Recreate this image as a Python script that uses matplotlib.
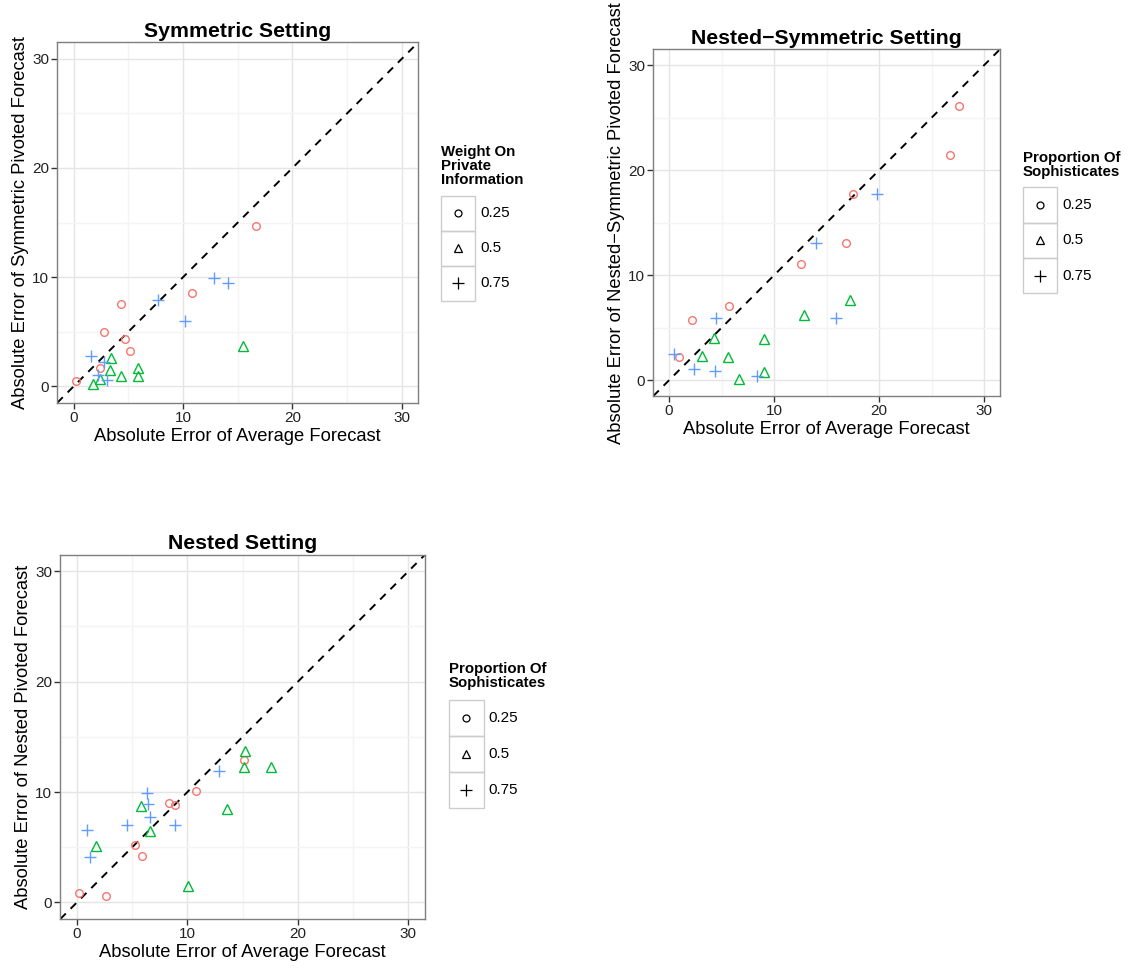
import numpy as np
import matplotlib
matplotlib.use("Agg")
import matplotlib.pyplot as plt
from matplotlib.patches import Rectangle

plt.rcParams["font.family"] = ["Liberation Sans", "DejaVu Sans"]

# Data: (x = abs error of average forecast, y = abs error of pivoted forecast)
groups = ["0.25", "0.5", "0.75"]

# Symmetric setting, by weight on private information
sym_x_025 = [0.2, 4.3, 2.8, 4.7, 5.1, 2.4, 10.8, 16.7]
sym_y_025 = [0.5, 7.5, 5.0, 4.3, 3.2, 1.7, 8.5, 14.7]
sym_x_05 = [3.4, 3.3, 4.3, 5.9, 5.9, 1.8, 2.4, 15.5]
sym_y_05 = [2.6, 1.5, 0.9, 1.7, 0.9, 0.2, 0.7, 3.7]
sym_x_075 = [1.6, 2.8, 2.2, 3.0, 7.7, 10.2, 12.8, 14.1]
sym_y_075 = [2.8, 2.2, 1.0, 0.6, 7.9, 6.0, 9.9, 9.5]

# Nested-symmetric setting, by proportion of sophisticates
ns_x_025 = [5.7, 2.2, 0.9, 27.6, 26.7, 17.5, 16.8, 12.6]
ns_y_025 = [7.1, 5.7, 2.2, 26.1, 21.4, 17.7, 13.1, 11.1]
ns_x_05 = [4.3, 9.0, 3.1, 5.6, 6.7, 9.0, 12.8, 17.2]
ns_y_05 = [4.0, 3.9, 2.3, 2.2, 0.1, 0.8, 6.2, 7.6]
ns_x_075 = [4.5, 0.5, 2.4, 4.4, 8.4, 15.9, 19.8, 14.0]
ns_y_075 = [5.9, 2.5, 1.1, 0.9, 0.4, 5.9, 17.7, 13.1]

# Nested setting, by proportion of sophisticates
nest_x_025 = [0.2, 2.6, 5.3, 5.9, 8.3, 8.9, 10.8, 15.1]
nest_y_025 = [0.9, 0.6, 5.2, 4.2, 9.0, 8.8, 10.1, 12.9]
nest_x_05 = [1.7, 5.8, 6.6, 13.6, 10.1, 15.2, 15.1, 17.6]
nest_y_05 = [5.1, 8.7, 6.5, 8.5, 1.5, 13.7, 12.3, 12.3]
nest_x_075 = [0.9, 1.2, 4.5, 6.3, 6.4, 6.6, 8.9, 12.9]
nest_y_075 = [6.6, 4.1, 7.0, 9.9, 8.9, 7.7, 7.0, 11.9]

colors = ["#F8766D", "#00BA38", "#619CFF"]
markers = ["o", "^", "+"]
msizes = [5.5, 6.5, 9]

W, H = 1134, 971
fig = plt.figure(figsize=(W / 100, H / 100), dpi=100)


def px_rect(x0, y0, x1, y1):
    return [x0 / W, 1 - y1 / H, (x1 - x0) / W, (y1 - y0) / H]


def panel(box, xs, ys, title, ylabel):
    ax = fig.add_axes(px_rect(*box))
    ax.set_xlim(-1.5, 31.5)
    ax.set_ylim(-1.5, 31.5)
    ax.set_xticks([0, 10, 20, 30])
    ax.set_yticks([0, 10, 20, 30])
    ax.set_xticks([5, 15, 25], minor=True)
    ax.set_yticks([5, 15, 25], minor=True)
    ax.grid(which="major", color="#E5E5E5", lw=1.0)
    ax.grid(which="minor", color="#F4F4F4", lw=1.0)
    ax.set_axisbelow(True)
    for s in ax.spines.values():
        s.set_color("#7F7F7F")
        s.set_linewidth(1.0)
    ax.tick_params(which="major", length=4, width=1, color="#333333",
                   labelsize=11, labelcolor="#222222", pad=2)
    ax.tick_params(which="minor", length=0)
    ax.plot([-1.5, 31.5], [-1.5, 31.5], ls=(0, (4, 3.5)), color="black", lw=1.4, zorder=2)
    for i in range(3):
        ax.plot(xs[i], ys[i], ls="none", marker=markers[i], ms=msizes[i],
                mfc="none", mec=colors[i], mew=1.0, zorder=3)
    ax.set_title(title, fontsize=15.3, fontweight="bold", pad=4)
    ax.set_xlabel("Absolute Error of Average Forecast", fontsize=13.2, labelpad=2)
    ax.set_ylabel(ylabel, fontsize=13.2, labelpad=2)
    return ax


panel((57.3, 42.3, 418.3, 402.7),
      [sym_x_025, sym_x_05, sym_x_075], [sym_y_025, sym_y_05, sym_y_075],
      "Symmetric Setting", "Absolute Error of Symmetric Pivoted Forecast")
panel((653.3, 49.3, 1000, 396),
      [ns_x_025, ns_x_05, ns_x_075], [ns_y_025, ns_y_05, ns_y_075],
      "Nested\u2212Symmetric Setting", "Absolute Error of Nested\u2212Symmetric Pivoted Forecast")
panel((60.3, 554.7, 425, 919),
      [nest_x_025, nest_x_05, nest_x_075], [nest_y_025, nest_y_05, nest_y_075],
      "Nested Setting", "Absolute Error of Nested Pivoted Forecast")

# overlay in pixel coordinates for the legends
ov = fig.add_axes([0, 0, 1, 1], zorder=-1)
ov.set_xlim(0, W)
ov.set_ylim(H, 0)
ov.axis("off")


def legend(x0, title_top, title, key_top, key_h=35, key_w=34.6):
    ov.text(x0, title_top, title, fontsize=10.8, fontweight="bold",
            va="top", ha="left", linespacing=1.0)
    for i, g in enumerate(groups):
        y = key_top + i * key_h
        ov.add_patch(Rectangle((x0, y), key_w, key_h, fill=False,
                               ec="#CCCCCC", lw=1.0))
        ov.plot([x0 + key_w / 2], [y + key_h / 2], ls="none", marker=markers[i],
                ms=[5, 6, 8.5][i], mfc="none", mec="black", mew=0.9)
        ov.text(x0 + key_w + 5, y + key_h / 2, g, fontsize=11, va="center", ha="left")


legend(440.7, 145, "Weight On\nPrivate\nInformation", 195.7, key_h=35)
legend(1022.7, 151, "Proportion Of\nSophisticates", 187.3, key_h=35.3)
legend(449, 662, "Proportion Of\nSophisticates", 700, key_h=36)

fig.savefig("out.png", dpi=100)
